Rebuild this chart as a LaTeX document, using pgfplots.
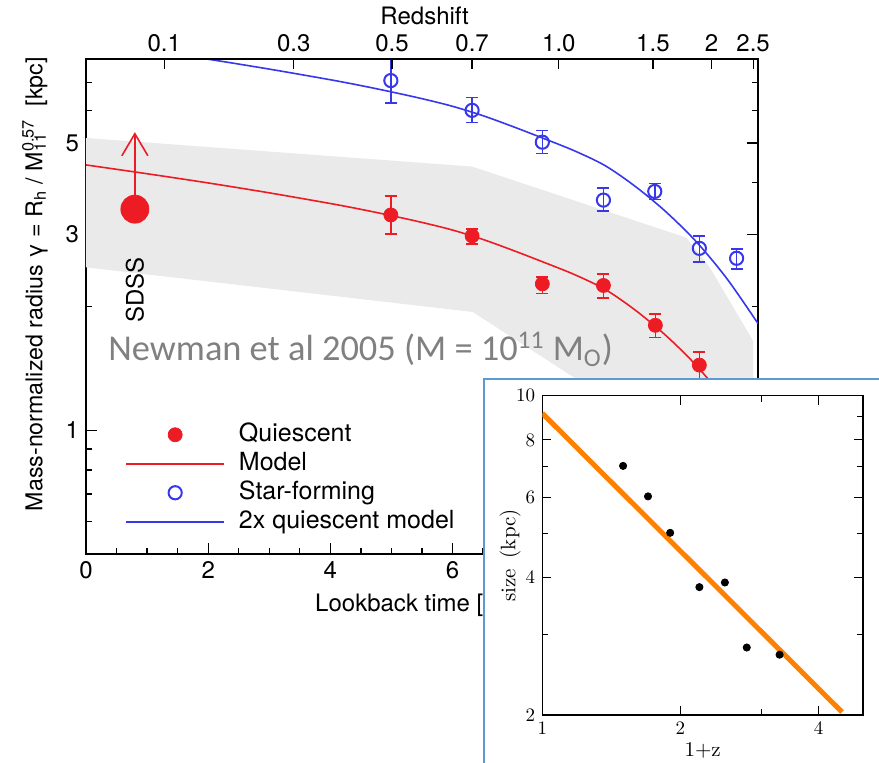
\documentclass[border=0pt]{standalone}
\usepackage{fontspec}
\newfontfamily\helv{TeX Gyre Heros}
\newfontfamily\calibri{Carlito}
\usepackage{pgfplots}
\usepackage{pgfplotstable}
\pgfplotsset{compat=1.18}
\usetikzlibrary{arrows.meta}

\definecolor{qred}{RGB}{237,28,36}
\definecolor{sfblue}{RGB}{55,55,235}
\definecolor{band}{RGB}{234,234,234}
\definecolor{boxblue}{RGB}{91,155,213}
\definecolor{fitorange}{RGB}{255,128,0}
\definecolor{notegray}{RGB}{128,128,128}

\newcommand\tickfont{\helv\fontsize{12}{14}\selectfont}
\newcommand\legfont{\helv\fontsize{12.5}{14}\selectfont}

\pgfplotsset{
  legmark/.style={legend image code/.code={%
    \draw[mark repeat=2, mark phase=2, ##1] plot coordinates {(0pt,0pt) (24.5pt,0pt) (49pt,0pt)};}},
  legline/.style={legend image code/.code={\draw[##1] (0pt,0pt) -- (49pt,0pt);}},
}

% quiescent galaxies: lookback time, gamma, errors
\pgfplotstableread{
x     y     ep    em
4.99  3.34  0.37  0.34
6.32  2.97  0.12  0.13
7.47  2.27  0.09  0.12
8.47  2.25  0.15  0.15
9.32  1.80  0.12  0.12
10.04 1.44  0.11  0.12
}\quiescent

% star-forming galaxies
\pgfplotstableread{
x     y     ep    em
4.99  7.09  0.91  0.84
6.32  6.00  0.45  0.40
7.47  5.02  0.34  0.31
8.47  3.63  0.25  0.22
9.31  3.81  0.17  0.17
10.04 2.77  0.20  0.20
10.65 2.62  0.14  0.15
}\starforming

% model curve and 2x model
\pgfplotstableread{
x     q      sf
0     4.420  8.840
1     4.207  8.414
2     3.996  7.992
3     3.780  7.560
4     3.561  7.122
4.5   3.447  6.894
5     3.327  6.654
5.5   3.203  6.406
6     3.069  6.138
6.5   2.911  5.822
7     2.735  5.470
7.5   2.560  5.120
8     2.390  4.780
8.5   2.200  4.400
9     1.955  3.910
9.5   1.696  3.392
10    1.432  2.864
10.5  1.164  2.328
11    0.909  1.818
}\model

% inset: size vs 1+z
\pgfplotstableread{
opz   size
1.50  7.02
1.70  6.02
1.90  5.01
2.20  3.81
2.50  3.90
2.79  2.81
3.29  2.71
}\inset

\begin{document}
\begin{tikzpicture}
\useasboundingbox (-43pt,-104.5pt) rectangle (396.5pt,277pt);

\begin{axis}[
    at={(0pt,0pt)}, anchor=south west,
    scale only axis, width=336pt, height=247.5pt,
    xmin=0, xmax=11,
    ymode=log, ymin=0.5, ymax=8,
    xtick={0,2,4,6,8,10}, minor x tick num=3,
    xtick pos=left,
    ytick={1,3,5}, yticklabels={1,3,5},
    minor ytick={0.6,0.7,0.8,0.9,2,4,6,7},
    ytick pos=both,
    tick align=inside,
    major tick length=5.5pt, minor tick length=3pt,
    every tick/.style={black, line width=0.6pt},
    axis line style={line width=0.8pt},
    /pgf/number format/assume math mode=true,
    ticklabel style={font=\tickfont},
    xlabel={Lookback time [Gyr]},
    ylabel={Mass-normalized radius γ = R\textsubscript{h} / M\rlap{\textsubscript{11}}\textsuperscript{0.57}\ \ [kpc]},
    label style={font=\tickfont},
    xlabel style={at={(axis description cs:0.5,-0.103)}, anchor=center},
    ylabel style={at={(axis description cs:-0.076,0.545)}, anchor=center, font=\helv\fontsize{11.6}{13}\selectfont},
    legend style={draw=none, fill=none, font=\legfont,
        at={(axis description cs:0.058,0.271)}, anchor=north west,
        row sep=0pt, inner sep=0pt,
        /tikz/every odd column/.append style={column sep=6pt},
        nodes={text height=9.5pt, text depth=3pt, inner sep=1pt}},
    legend cell align=left,
]
\addplot[fill=band, draw=none, forget plot] coordinates {
    (0,5.14) (6.32,4.38) (9.83,2.94) (10.21,2.49) (10.92,1.65)
    (10.92,0.70) (8.0,1.34) (6.33,1.94) (0,2.49)} -- cycle;

\addplot[qred, line width=0.8pt, smooth, forget plot] table[x=x, y=q] {\model};
\addplot[sfblue, line width=0.8pt, smooth, forget plot] table[x=x, y=sf] {\model};

\addplot[qred, only marks, mark=*, mark size=3.5pt, forget plot,
    error bars/.cd, y dir=both, y explicit,
    error bar style={line width=0.8pt, qred},
    error mark options={rotate=90, qred, line width=0.8pt, mark size=3pt}]
    table[x=x, y=y, y error plus=ep, y error minus=em] {\quiescent};

\addplot[sfblue, only marks, mark=o, mark size=3.3pt, line width=1pt, forget plot,
    error bars/.cd, y dir=both, y explicit,
    error bar style={line width=0.8pt, sfblue},
    error mark options={rotate=90, sfblue, line width=0.8pt, mark size=3pt}]
    table[x=x, y=y, y error plus=ep, y error minus=em] {\starforming};

% SDSS lower limit
\addplot[qred, line width=0.8pt, -{Straight Barb[length=11pt, width=13pt]}, forget plot]
    coordinates {(0.8,3.45) (0.8,5.31)};
\addplot[qred, only marks, mark=*, mark size=7pt, forget plot] coordinates {(0.8,3.45)};
\node[rotate=90, font=\tickfont] at (axis cs:0.8,2.19) {SDSS};

\addlegendimage{qred, only marks, mark=*, mark size=3.5pt, legmark}
\addlegendentry{Quiescent}
\addlegendimage{qred, line width=0.8pt, legline}
\addlegendentry{Model}
\addlegendimage{sfblue, only marks, mark=o, mark size=3.3pt, line width=1pt, legmark}
\addlegendentry{Star-forming}
\addlegendimage{sfblue, line width=0.8pt, legline}
\addlegendentry{2x quiescent model}
\end{axis}

% redshift axis on top
\begin{axis}[
    at={(0pt,0pt)}, anchor=south west,
    scale only axis, width=336pt, height=247.5pt,
    xmin=0, xmax=11, ymode=log, ymin=0.5, ymax=8,
    axis x line*=top, axis y line=none,
    xtick={1.28,3.40,5.01,6.32,7.74,9.28,10.24,10.92},
    xticklabels={0.1,0.3,0.5,0.7,1.0,1.5,2,2.5},
    tick align=inside, major tick length=5pt,
    every tick/.style={black, line width=0.6pt},
    axis line style={line width=0.8pt},
    ticklabel style={font=\tickfont},
    xlabel={Redshift},
    xlabel style={font=\tickfont, at={(axis description cs:0.504,1.087)}, anchor=center},
]
\end{axis}

\node[anchor=base west, inner sep=0pt, text=notegray, font=\calibri\fontsize{18.2}{21}\selectfont]
    at (11pt,96.5pt) {Newman et al 2005 (M = 10\textsuperscript{11} M\textsubscript{O})};

% inset panel
\fill[white] (199pt,-104.5pt) rectangle (396.5pt,87.5pt);
\draw[boxblue, line width=1pt] (199pt,-104.5pt) -- (199pt,87.5pt) -- (396.5pt,87.5pt);

\begin{axis}[
    at={(228.15pt,-80.5pt)}, anchor=south west,
    scale only axis, width=160.35pt, height=159.65pt,
    xmode=log, ymode=log,
    xmin=1, xmax=5, ymin=2, ymax=10,
    xtick={1,2,4}, xticklabels={1,2,4}, minor xtick={3},
    ytick={2,4,6,8,10}, yticklabels={2,4,6,8,10}, minor ytick={3,5,7,9},
    xtick pos=both, ytick pos=both,
    tick align=inside,
    major tick length=4.5pt, minor tick length=3pt,
    every tick/.style={black, line width=0.5pt},
    axis line style={line width=0.6pt},
    ticklabel style={font=\rmfamily\fontsize{9.5}{11}\selectfont},
    label style={font=\rmfamily\fontsize{10.5}{12}\selectfont},
    xlabel={1+z}, ylabel={size\, (kpc)},
    xlabel style={at={(axis description cs:0.5,-0.11)}, anchor=center},
    ylabel style={at={(axis description cs:-0.1,0.5)}, anchor=center},
]
\addplot[fitorange, line width=2.5pt] coordinates {(1.0,9.15) (4.50,2.03)};
\addplot[black, only marks, mark=*, mark size=1.8pt] table[x=opz, y=size] {\inset};
\end{axis}
\end{tikzpicture}
\end{document}
